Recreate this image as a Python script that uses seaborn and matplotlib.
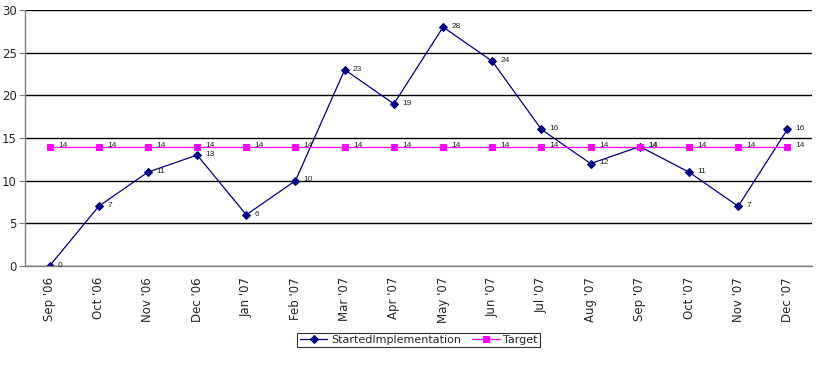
import seaborn as sns
import matplotlib.pyplot as plt
import pandas as pd

months = ["Sep '06", "Oct '06", "Nov '06", "Dec '06", "Jan '07", "Feb '07", "Mar '07", "Apr '07",
          "May '07", "Jun '07", "Jul '07", "Aug '07", "Sep '07", "Oct '07", "Nov '07", "Dec '07"]
started = [0, 7, 11, 13, 6, 10, 23, 19, 28, 24, 16, 12, 14, 11, 7, 16]
target = [14] * 16

df = pd.DataFrame({'pos': range(len(months)), 'month': months,
                   'StartedImplementation': started, 'Target': target})

sns.set_style('white')
plt.rcParams['font.family'] = ['DejaVu Sans']

fig = plt.figure(figsize=(8.24, 3.77), dpi=100)
ax = fig.add_axes([0.0303, 0.2944, 0.9551, 0.6791])

sns.lineplot(data=df, x='pos', y='StartedImplementation', ax=ax, color='#000080', linewidth=0.9,
             marker='D', markersize=3.8, markeredgecolor='#000080', label='StartedImplementation')
sns.lineplot(data=df, x='pos', y='Target', ax=ax, color='#FF00FF', linewidth=0.9,
             marker='s', markersize=4.5, markeredgecolor='#FF00FF', label='Target')

# point labels
for i, v in enumerate(started):
    ax.annotate(str(v), (i, v), xytext=(6, 0.5), textcoords='offset points', fontsize=6,
                va='center', family='Liberation Sans')
for i, v in enumerate(target):
    ax.annotate(str(v), (i, v), xytext=(6, 0.5), textcoords='offset points', fontsize=6,
                va='center', family='Liberation Sans')

ax.set_xlim(-0.5, len(months) - 0.5)
ax.set_ylim(0, 30)
ax.set_yticks(range(0, 31, 5))
ax.set_xticks(range(len(months)))
ax.set_xticklabels(months, rotation=90, fontsize=8.5)
ax.tick_params(axis='x', length=0, pad=8)
ax.set_xticks([i - 0.5 for i in range(len(months) + 1)], minor=True)
ax.tick_params(axis='x', which='minor', length=4, color='#808080', width=1, direction='out')
ax.tick_params(axis='y', labelsize=8.5, length=4, color='#808080', direction='out', left=True, pad=2)
ax.yaxis.grid(True, color='black', linewidth=1)
ax.set_axisbelow(True)
ax.set_xlabel('')
ax.set_ylabel('')
for s in ['top', 'right']:
    ax.spines[s].set_visible(False)
ax.spines['left'].set_color('#808080')
ax.spines['bottom'].set_color('#808080')
ax.spines['left'].set_linewidth(1)
ax.spines['bottom'].set_linewidth(1)

leg = ax.legend(loc='center', bbox_to_anchor=(0.508, 0.098), bbox_transform=fig.transFigure, ncol=2,
                fontsize=8, frameon=True, fancybox=False, edgecolor='black', handlelength=2.5,
                columnspacing=1, handletextpad=0.3, borderpad=0.2, borderaxespad=0)
leg.get_frame().set_linewidth(0.8)

fig.savefig('out.png', dpi=100)
